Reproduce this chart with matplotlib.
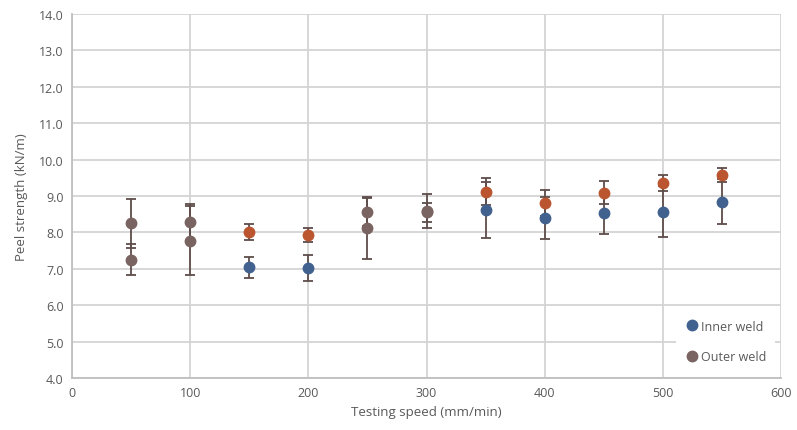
import numpy as np
import matplotlib.pyplot as plt

plt.rcParams['font.family'] = ['Open Sans', 'DejaVu Sans']

speed = [50, 100, 150, 200, 250, 300, 350, 400, 450, 500, 550]
inner = [7.25, 7.77, 7.04, 7.02, 8.12, 8.55, 8.62, 8.40, 8.53, 8.57, 8.85]
inner_err = [0.42, 0.95, 0.29, 0.36, 0.84, 0.25, 0.76, 0.57, 0.57, 0.70, 0.62]
outer = [8.25, 8.28, 8.02, 7.93, 8.57, 8.60, 9.12, 8.80, 9.09, 9.36, 9.58]
outer_err = [0.67, 0.50, 0.22, 0.18, 0.40, 0.47, 0.37, 0.36, 0.32, 0.22, 0.20]
# points drawn in the grey-brown colour in the original
grey_speeds = [50, 100, 250, 300]

blue = '#41618f'
red = '#bb5530'
grey = '#7a6461'
bar_col = '#5e4d4a'
txt = '#595959'

fig = plt.figure(figsize=(7.97, 4.31), dpi=100)
ax = fig.add_axes([0.0903, 0.1206, 0.8897, 0.8444])

for i, s in enumerate(speed):
    is_grey = s in grey_speeds
    c_in = grey if is_grey else blue
    c_out = grey if is_grey else red
    ax.errorbar(s, inner[i], yerr=inner_err[i], fmt='o', color=c_in, ms=7.5,
                ecolor=bar_col, elinewidth=1.3, capsize=3.5, capthick=1.3, zorder=3)
    ax.errorbar(s, outer[i], yerr=outer_err[i], fmt='o', color=c_out, ms=7.5,
                ecolor=bar_col, elinewidth=1.3, capsize=3.5, capthick=1.3, zorder=3)

ax.set_xlim(0, 600)
ax.set_ylim(4, 14)
ax.set_xticks(np.arange(0, 601, 100))
ax.set_yticks(np.arange(4, 14.1, 1))
ax.set_yticklabels(['%.1f' % v for v in np.arange(4, 14.1, 1)])
ax.grid(True, color='#d4d4d4', linewidth=1.3)
ax.set_axisbelow(True)
for sp in ['top', 'right']:
    ax.spines[sp].set_visible(False)
for sp in ['left', 'bottom']:
    ax.spines[sp].set_color('#bfbfbf')
    ax.spines[sp].set_linewidth(1.3)
ax.tick_params(length=0, colors=txt, labelsize=9, pad=6)

ax.set_xlabel('Testing speed (mm/min)', color=txt, fontsize=9.5, labelpad=4)
ax.set_ylabel('Peel strength (kN/m)', color=txt, fontsize=9.5, labelpad=8)

h1, = ax.plot([], [], 'o', color=blue, ms=7.5)
h2, = ax.plot([], [], 'o', color=grey, ms=7.5)
leg = ax.legend([h1, h2], ['Inner weld', 'Outer weld'], loc='lower right',
                frameon=True, fontsize=9, labelspacing=1.4, handletextpad=0.1,
                handlelength=1.2, borderpad=0.7, bbox_to_anchor=(1.0, 0.0))
leg.get_frame().set_edgecolor('none')
leg.get_frame().set_facecolor('white')
leg.get_frame().set_alpha(1)
for t in leg.get_texts():
    t.set_color(txt)

fig.savefig('out.png', dpi=100)
